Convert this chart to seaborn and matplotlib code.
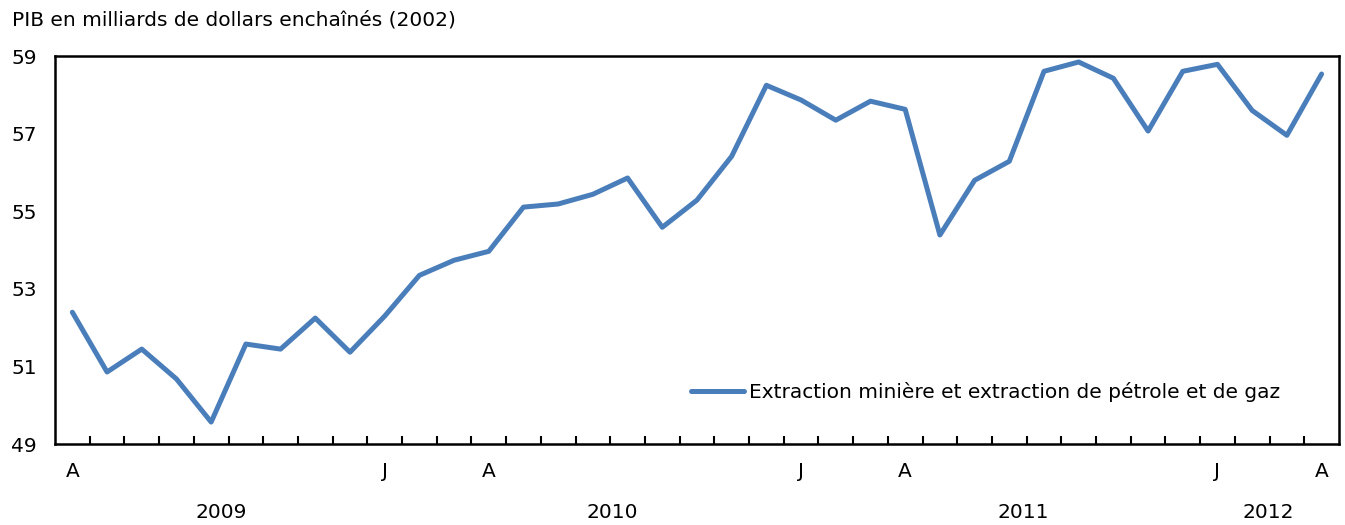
import numpy as np
import pandas as pd
import matplotlib
matplotlib.use("Agg")
import matplotlib.pyplot as plt
import seaborn as sns

# avril 2009 -> avril 2012, mensuel
mois = pd.date_range("2009-04-01", "2012-04-01", freq="MS")
pib = [52.4, 50.86, 51.45, 50.68, 49.57, 51.58, 51.45, 52.25, 51.37, 52.3,
       53.35, 53.74, 53.97, 55.11, 55.19, 55.44, 55.86, 54.59, 55.29, 56.42,
       58.25, 57.87, 57.35, 57.84, 57.63, 54.39, 55.8, 56.29, 58.61, 58.85,
       58.43, 57.07, 58.61, 58.79, 57.6, 56.96, 58.54]
lettres = {1: "J", 4: "A"}
annees = ["2009", "2010", "2011", "2012"]
pos_annees = [4.3, 15.55, 27.4, 34.45]

serie = "Extraction minière et extraction de pétrole et de gaz"
df = pd.DataFrame({"i": np.arange(len(mois)), "pib": pib, "serie": serie})

sns.set_style("white")
plt.rcParams["font.family"] = ["DejaVu Sans"]
plt.rcParams["text.color"] = "black"
plt.rcParams["xtick.color"] = "black"
plt.rcParams["ytick.color"] = "black"
fs = 14.5

fig = plt.figure(figsize=(13.45, 5.25), dpi=100)
ax = fig.add_axes([0.0409, 0.154, 0.9546, 0.739])

sns.lineplot(data=df, x="i", y="pib", hue="serie", palette=["#4A7EBB"],
             linewidth=3.6, ax=ax)

ax.set_xlim(-0.5, len(mois) - 0.5)
ax.set_ylim(49, 59)
ax.set_yticks([49, 51, 53, 55, 57, 59])
ax.set_xlabel("")
ax.set_ylabel("")

maj = [k for k, m in enumerate(mois) if m.month in lettres]
ax.set_xticks(maj)
ax.set_xticklabels([lettres[mois[k].month] for k in maj])
ax.set_xticks(np.arange(0.5, len(mois) - 1, 1.0), minor=True)
ax.tick_params(axis="x", which="major", length=0, pad=13, labelsize=fs)
ax.tick_params(axis="x", which="minor", direction="in", length=6, width=1.5,
               color="black", bottom=True)
ax.tick_params(axis="y", length=0, pad=13, labelsize=fs)

for s in ax.spines.values():
    s.set_visible(True)
    s.set_color("black")
    s.set_linewidth(1.8)

for a, p in zip(annees, pos_annees):
    ax.text(p, -0.175, a, transform=ax.get_xaxis_transform(), ha="center",
            va="center", fontsize=fs)

fig.text(0.009, 0.962, "PIB en milliards de dollars enchaînés (2002)",
         ha="left", va="center", fontsize=fs)

leg = ax.legend(loc="center right", bbox_to_anchor=(0.954, 0.134), frameon=False,
                borderaxespad=0, borderpad=0,
                handlelength=2.6, handletextpad=0.25, fontsize=fs)
for l in leg.get_lines():
    l.set_linewidth(3.6)

fig.savefig("out.png", dpi=100)
